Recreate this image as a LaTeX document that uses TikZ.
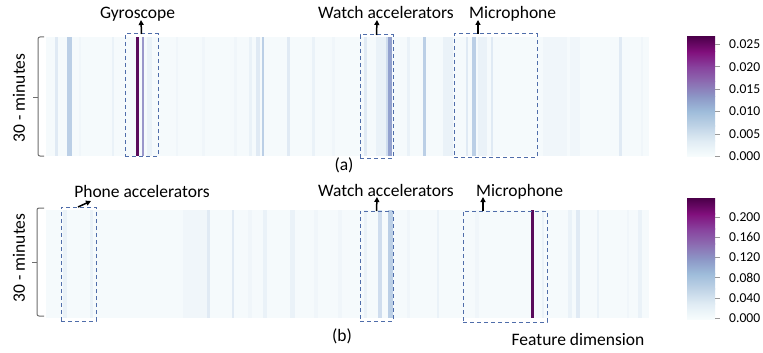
\documentclass[tikz,border=0pt]{standalone}
\usepackage{fontspec}
\setmainfont{Carlito}
\usetikzlibrary{arrows.meta}

% BuPu colour ramp
\definecolor{bp0}{HTML}{F7FCFD}
\definecolor{bp1}{HTML}{E0ECF4}
\definecolor{bp2}{HTML}{BFD3E6}
\definecolor{bp3}{HTML}{9EBCDA}
\definecolor{bp4}{HTML}{8C96C6}
\definecolor{bp5}{HTML}{8C6BB1}
\definecolor{bp6}{HTML}{88419D}
\definecolor{bp7}{HTML}{810F7C}
\definecolor{bp8}{HTML}{4D004B}
% heat-map cell shades
\definecolor{hbg}{HTML}{F5FAFC}
\definecolor{s0}{HTML}{F0F6FA}
\definecolor{s1}{HTML}{EAF2F8}
\definecolor{s2}{HTML}{E0EAF4}
\definecolor{s3}{HTML}{CFDDEE}
\definecolor{s4}{HTML}{BBCFE6}
\definecolor{s5}{HTML}{93A2CF}
\definecolor{dp}{HTML}{5A0B5B}
\definecolor{lav}{HTML}{9A97CB}
\definecolor{dashblue}{HTML}{4F6DAA}
\definecolor{brk}{HTML}{6E6E6E}

\tikzset{
  lbl/.style={inner sep=0pt, anchor=base, font=\fontsize{17.5}{21}\selectfont},
  ticklbl/.style={inner sep=0pt, anchor=west, font=\fontsize{13.6}{16}\selectfont},
  dbox/.style={draw=dashblue, dash pattern=on 4pt off 3pt, line width=1pt,
    inner sep=0pt, outer sep=0pt, anchor=north west},
  arr/.style={-{Triangle[length=5pt,width=5pt]}, line width=1.5pt, black},
  brace/.style={draw=brk, line width=1pt, rounded corners=2pt},
  tick/.style={draw=gray!80, line width=0.9pt}
}

\begin{document}
\begin{tikzpicture}[x=1pt, y=-1pt]
\useasboundingbox[fill=white] (0,0) rectangle (763,353);

% ---------------- panel (a) ----------------
\fill[hbg] (46,37) rectangle (649,156);
\foreach \a/\b/\c in {
  55/58/s2, 67/72/s4, 79/81/s0, 112/114/s1, 147/152/s1, 176/178/s0, 202/205/s0,
  234/237/s0, 249/252/s1, 256/260/s2, 262/264/s4, 287/290/s2, 312/315/s1,
  332/335/s0, 364/367/s2, 376/386/s1, 386/389/s3, 388/392/s5, 407/410/s1,
  423/426/s4, 443/453/s1, 466/468/s2, 472/476/s4, 478/487/s1, 491/493/s2,
  543/567/s0, 570/580/s0, 619/622/s2, 641/643/s0,
  136/139/dp, 142/144/lav}
  \fill[\c] (\a,37) rectangle (\b,156);

% bracket and axis label
\draw[brace] (44,37) -- (38,37) -- (38,156) -- (44,156);
\draw[brk, line width=1pt] (38,97) -- (33,97);
\node[rotate=90, inner sep=0pt, font=\fontsize{17.5}{21}\selectfont] (ylblA) at (19,98) {30 - minutes};

% highlighted regions
\node[dbox, minimum width=33pt, minimum height=122pt] (gyroA) at (125,34) {};
\node[dbox, minimum width=33pt, minimum height=123pt] (watchA) at (360,35) {};
\node[dbox, minimum width=83pt, minimum height=123pt] (micA) at (454,34) {};

\node[lbl] (tGyro) at (137.5,18.5) {Gyroscope};
\node[lbl] (tWatchA) at (386,18.5) {Watch accelerators};
\node[lbl, anchor=base west] (tMicA) at (469,18.5) {Microphone};
\node[lbl] (capA) at (344,170) {(a)};

\coordinate (gyroTip) at (141,20);
\coordinate (watchATip) at (377,20);
\coordinate (micATip) at (478,20);
\draw[arr] (gyroA.north) -- (gyroTip);
\draw[arr] (watchA.north) -- (watchATip);
\draw[arr] ([xshift=24pt]micA.north west) -- (micATip);

% colour bar (a)
\foreach \i/\lo/\hi in {0/bp0/bp1,1/bp1/bp2,2/bp2/bp3,3/bp3/bp4,4/bp4/bp5,5/bp5/bp6,6/bp6/bp7,7/bp7/bp8}
  \shade[bottom color=\lo, top color=\hi] (687,{156-\i*14.875}) rectangle (715,{156-(\i+1)*14.875-0.3});
\foreach \y/\t [count=\k] in {156/0.000, 134/0.005, 111.6/0.010, 89.2/0.015, 66.8/0.020, 44.4/0.025} {
  \draw[tick] (715,\y) -- (720,\y);
  \node[ticklbl] (cbA\k) at (729,\y) {\t};
}

% ---------------- panel (b) ----------------
\fill[hbg] (46,210) rectangle (649,318);
\foreach \a/\b/\c in {
  63/67/s1, 90/93/s1, 183/207/s0, 207/210/s2, 232/234/s2, 248/252/s0,
  263/267/s1, 290/295/s1, 314/318/s0, 338/342/s0, 364/367/s1, 378/382/s3,
  388/393/s4, 407/410/s0, 437/439/s1, 475/479/s0, 542/544/s1, 568/572/s1,
  576/580/s2, 597/599/s1, 627/629/s0, 638/642/s1,
  531/534/dp}
  \fill[\c] (\a,210) rectangle (\b,318);

\draw[brace] (44,208) -- (37,208) -- (37,316) -- (44,316);
\draw[brk, line width=1pt] (37,262) -- (32,262);
\node[rotate=90, inner sep=0pt, font=\fontsize{17.5}{21}\selectfont] (ylblB) at (19,258) {30 - minutes};

\node[dbox, minimum width=35pt, minimum height=114pt] (phoneB) at (61,207) {};
\node[dbox, minimum width=33pt, minimum height=110pt] (watchB) at (360,211) {};
\node[dbox, minimum width=84pt, minimum height=111pt] (micB) at (463,211) {};

\node[lbl] (tPhone) at (142,197) {Phone accelerators};
\node[lbl] (tWatchB) at (386,196) {Watch accelerators};
\node[lbl, anchor=base west] (tMicB) at (476,196) {Microphone};
\node[lbl] (capB) at (342,341) {(b)};
\node[lbl] (tFeat) at (578,345) {Feature dimension};

\coordinate (phoneTip) at (91,201);
\coordinate (watchBTip) at (377,197);
\coordinate (micBTip) at (483,197);
\draw[arr] ([xshift=17pt]phoneB.north west) -- (phoneTip);
\draw[arr] (watchB.north) -- (watchBTip);
\draw[arr] ([xshift=20pt]micB.north west) -- (micBTip);

% colour bar (b)
\foreach \i/\lo/\hi in {0/bp0/bp1,1/bp1/bp2,2/bp2/bp3,3/bp3/bp4,4/bp4/bp5,5/bp5/bp6,6/bp6/bp7,7/bp7/bp8}
  \shade[bottom color=\lo, top color=\hi] (687,{319-\i*15}) rectangle (715,{319-(\i+1)*15-0.3});
\foreach \y/\t [count=\k] in {318/0.000, 298/0.040, 277.8/0.080, 257.6/0.120, 237.4/0.160, 217.2/0.200} {
  \draw[tick] (715,\y) -- (720,\y);
  \node[ticklbl] (cbB\k) at (729,\y) {\t};
}
\end{tikzpicture}
\end{document}
